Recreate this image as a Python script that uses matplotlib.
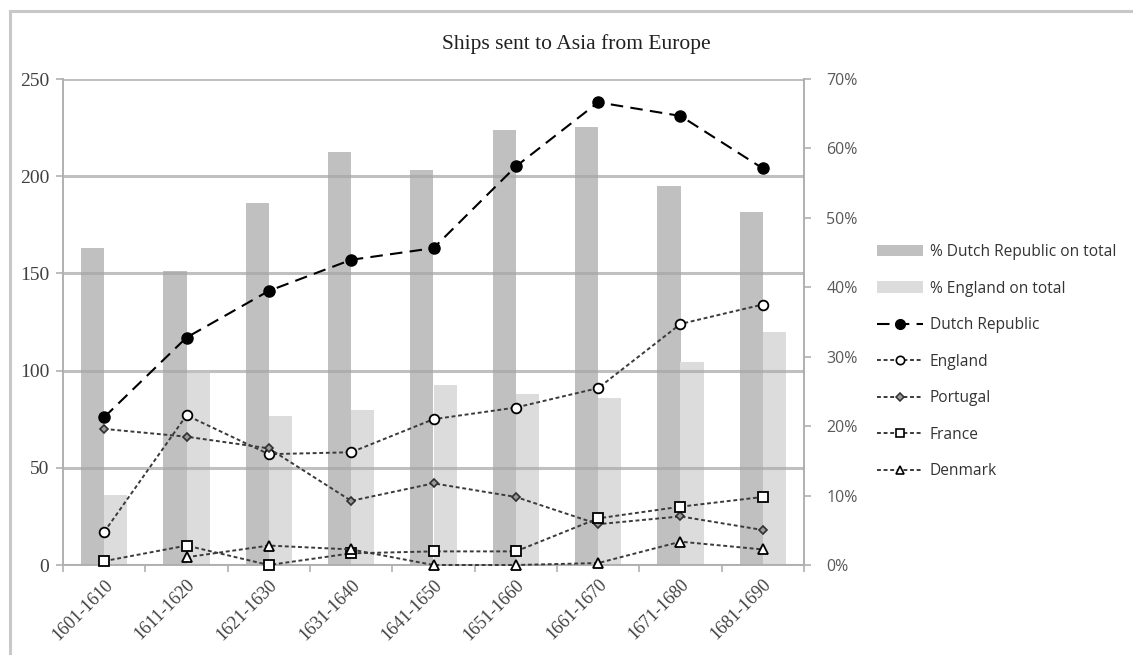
import numpy as np
import matplotlib
matplotlib.use("Agg")
import matplotlib.pyplot as plt
from matplotlib.lines import Line2D
from matplotlib.patches import Patch
from matplotlib.ticker import FuncFormatter, MultipleLocator

# --- data -------------------------------------------------------------
periods = ["1601-1610", "1611-1620", "1621-1630", "1631-1640", "1641-1650",
           "1651-1660", "1661-1670", "1671-1680", "1681-1690"]

# ships sent per decade (left axis)
dutch = [76, 117, 141, 157, 163, 205, 238, 231, 204]
england = [17, 77, 57, 58, 75, 81, 91, 124, 134]
portugal = [70, 66, 60, 33, 42, 35, 21, 25, 18]
france = [2, 10, 0, 6, 7, 7, 24, 30, 35]
denmark = [np.nan, 4, 10, 8, 0, 0, 1, 12, 8]

# share of total ships (right axis, %)
pct_dutch = [45.7, 42.3, 52.2, 59.5, 56.9, 62.7, 63.1, 54.6, 50.9]
pct_england = [10.1, 27.6, 21.5, 22.3, 25.9, 24.6, 24.1, 29.3, 33.5]

# --- styling ----------------------------------------------------------
SERIF = "Liberation Serif"
SANS = "Open Sans"
W, H = 1133, 655

fig = plt.figure(figsize=(W / 100, H / 100), dpi=100)
fig.patch.set_facecolor("white")

# outer chart frame (left and top edges)
frame_kw = dict(color="#c8c8c8", lw=2.2, transform=fig.transFigure, clip_on=False)
fig.add_artist(Line2D([9.5 / W, 9.5 / W], [0, 1 - 10.5 / H], **frame_kw))
fig.add_artist(Line2D([9.5 / W, 1], [1 - 10.5 / H, 1 - 10.5 / H], **frame_kw))

left, right, top, bottom = 63, 804, 79, 565
ax = fig.add_axes([left / W, 1 - bottom / H, (right - left) / W, (bottom - top) / H])
ax2 = ax.twinx()
ax.set_zorder(ax2.get_zorder() + 1)
ax.patch.set_visible(False)

x = np.arange(len(periods))
bw = 0.28

# percentage bars on the right axis
ax2.bar(x - bw, pct_dutch, width=bw, align="edge", color="#c0c0c0", lw=0)
ax2.bar(x, pct_england, width=bw, align="edge", color="#dcdcdc", lw=0)
ax2.set_ylim(0, 70)
ax2.yaxis.set_major_locator(MultipleLocator(10))
ax2.yaxis.set_major_formatter(FuncFormatter(lambda v, p: f"{v:.0f}%"))

# ship counts on the left axis
dot_kw = dict(color="#3a3a3a", lw=1.4, dashes=(2.0, 1.4))
line_kw = dict(clip_on=False, zorder=3)
ax.plot(x, dutch, color="black", lw=1.5, dashes=(6, 3.5), marker="o",
        markersize=8, markerfacecolor="black", markeredgecolor="black", **line_kw)
ax.plot(x, england, marker="o", markersize=7, markerfacecolor="white",
        markeredgecolor="black", markeredgewidth=1.3, **dot_kw, **line_kw)
ax.plot(x, portugal, marker="D", markersize=4.5, markerfacecolor="#9a9a9a",
        markeredgecolor="#303030", markeredgewidth=1.2, **dot_kw, **line_kw)
ax.plot(x, france, marker="s", markersize=7, markerfacecolor="white",
        markeredgecolor="black", markeredgewidth=1.3, **dot_kw, **line_kw)
ax.plot(x, denmark, marker="^", markersize=7, markerfacecolor="white",
        markeredgecolor="black", markeredgewidth=1.3, **dot_kw, **line_kw)

ax.set_xlim(-0.5, len(periods) - 0.5)
ax.set_ylim(0, 250)
ax.yaxis.set_major_locator(MultipleLocator(50))
ax.grid(axis="y", color="#a6a6a6", lw=2.2, alpha=0.7, zorder=1)
ax.set_axisbelow(True)

# category ticks sit between groups, labels at the group centres
ax.set_xticks(np.arange(len(periods) + 1) - 0.5)
ax.set_xticklabels([])
ax.set_xticks(x, minor=True)
ax.set_xticklabels(periods, minor=True, rotation=45, ha="right", va="top",
                   rotation_mode="anchor", fontfamily=SERIF, fontsize=13,
                   color="#404040")
ax.tick_params(axis="x", which="minor", length=0, pad=8)
ax.tick_params(axis="x", which="major", length=5, color="#b0b0b0", width=1.2)

ax.tick_params(axis="y", length=5, color="#b0b0b0", width=1.2, pad=5,
               labelsize=14, labelcolor="#404040")
for t in ax.get_yticklabels():
    t.set_fontfamily(SERIF)

ax2.tick_params(axis="y", length=5, color="#b0b0b0", width=1.2, pad=11,
                labelsize=11.5, labelcolor="#595959")
for t in ax2.get_yticklabels():
    t.set_fontfamily(SANS)

for a in (ax, ax2):
    a.spines["top"].set_visible(False)
    for side in ("left", "right", "bottom"):
        a.spines[side].set_color("#b0b0b0")
        a.spines[side].set_linewidth(1.4)
ax.spines["right"].set_visible(False)
ax2.spines["left"].set_visible(False)
ax2.spines["bottom"].set_visible(False)

fig.text(576 / W, 1 - 44 / H, "Ships sent to Asia from Europe", ha="center",
         va="center", fontfamily=SERIF, fontsize=15.5, color="#202020")

# legend
handles = [
    Patch(facecolor="#c0c0c0", lw=0),
    Patch(facecolor="#dcdcdc", lw=0),
    Line2D([], [], color="black", lw=1.5, dashes=(6, 3.5), marker="o", markersize=7,
           markerfacecolor="black"),
    Line2D([], [], marker="o", markersize=6, markerfacecolor="white",
           markeredgecolor="black", markeredgewidth=1.2, **dot_kw),
    Line2D([], [], marker="D", markersize=4, markerfacecolor="#9a9a9a",
           markeredgecolor="#303030", markeredgewidth=1.1, **dot_kw),
    Line2D([], [], marker="s", markersize=6, markerfacecolor="white",
           markeredgecolor="black", markeredgewidth=1.2, **dot_kw),
    Line2D([], [], marker="^", markersize=6, markerfacecolor="white",
           markeredgecolor="black", markeredgewidth=1.2, **dot_kw),
]
labels = ["% Dutch Republic on total", "% England on total", "Dutch Republic",
          "England", "Portugal", "France", "Denmark"]
fig.legend(handles, labels, loc="upper left",
           bbox_to_anchor=(876.7 / W, 1 - 244 / H), frameon=False,
           borderpad=0, borderaxespad=0, handlelength=3.0, handleheight=0.75,
           handletextpad=0.4, labelspacing=1.32,
           prop={"family": SANS, "size": 11.2}, labelcolor="#333333")

fig.savefig("out.png", dpi=100, facecolor="white")
